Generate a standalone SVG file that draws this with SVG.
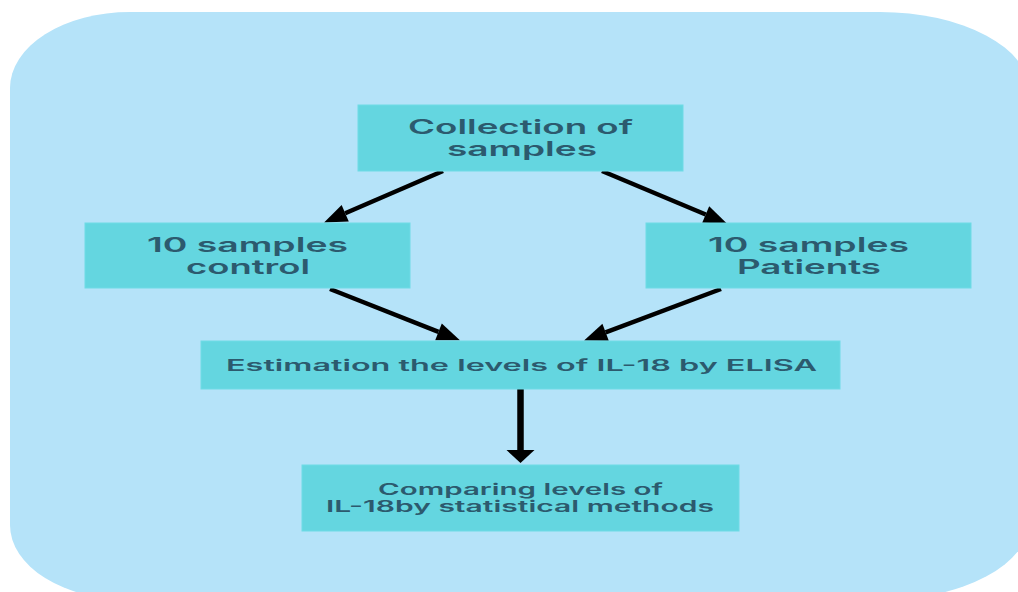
<svg xmlns="http://www.w3.org/2000/svg" width="1018" height="592" viewBox="0 0 1018 592">
<style>
.bg{fill:#b5e3f9}
.box{fill:#64d6e0;stroke:#6fdbe6;stroke-width:1}
.t{font-family:Inter,"Liberation Sans",sans-serif;font-weight:600;fill:#2c5a6e}
.big{font-size:20px}
.small{font-size:15.5px}
.conn{stroke:#000;stroke-width:4.5;fill:none}
.v{stroke:#000;stroke-width:6.5;fill:none}
</style>
<defs>
<marker id="ah" markerUnits="userSpaceOnUse" markerWidth="24" markerHeight="20" refX="0" refY="10" orient="auto" overflow="visible">
<path d="M0,1 L23,10 L0,19 z" fill="#000"/>
</marker>
<marker id="ahv" markerUnits="userSpaceOnUse" markerWidth="14" markerHeight="30" refX="0" refY="15" orient="auto" overflow="visible">
<path d="M0,1 L13,15 L0,29 z" fill="#000"/>
</marker>
</defs>
<path class="bg" d="M130,12 L880,12 A150,80 0 0 1 1030,92 L1030,520 A150,80 0 0 1 880,600 L130,600 A120,75 0 0 1 10,525 L10,88 A120,76 0 0 1 130,12 Z"/>
<g id="connectors">
<line class="conn" x1="443" y1="171" x2="345.2" y2="213.3" marker-end="url(#ah)"/>
<line class="conn" x1="602" y1="171" x2="705.7" y2="214.5" marker-end="url(#ah)"/>
<line class="conn" x1="330" y1="289" x2="438.5" y2="331.9" marker-end="url(#ah)"/>
<line class="conn" x1="721" y1="289" x2="605.6" y2="332.3" marker-end="url(#ah)"/>
<line class="v" x1="520.5" y1="389" x2="520.5" y2="450" marker-end="url(#ahv)"/>
</g>
<g id="collection">
<rect class="box" x="358" y="105" width="325" height="66"/>
<text class="t big" x="520.5" y="134" text-anchor="middle" textLength="225" lengthAdjust="spacingAndGlyphs">Collection of</text>
<text class="t big" x="522" y="156" text-anchor="middle" textLength="150" lengthAdjust="spacingAndGlyphs">samples</text>
</g>
<g id="control">
<rect class="box" x="85" y="223" width="325" height="65"/>
<text class="t big" x="247.5" y="252" text-anchor="middle" textLength="201" lengthAdjust="spacingAndGlyphs">10 samples</text>
<text class="t big" x="248" y="274" text-anchor="middle" textLength="124" lengthAdjust="spacingAndGlyphs">control</text>
</g>
<g id="patients">
<rect class="box" x="646" y="223" width="325" height="65"/>
<text class="t big" x="808.5" y="252" text-anchor="middle" textLength="201" lengthAdjust="spacingAndGlyphs">10 samples</text>
<text class="t big" x="809" y="274" text-anchor="middle" textLength="144" lengthAdjust="spacingAndGlyphs">Patients</text>
</g>
<g id="estimation">
<rect class="box" x="201" y="341" width="639" height="48"/>
<text class="t small" x="521.5" y="371" text-anchor="middle" textLength="591" lengthAdjust="spacingAndGlyphs">Estimation the levels of IL-18 by ELISA</text>
</g>
<g id="comparing">
<rect class="box" x="302" y="465" width="437" height="66"/>
<text class="t small" x="520.5" y="495" text-anchor="middle" textLength="285" lengthAdjust="spacingAndGlyphs">Comparing levels of</text>
<text class="t small" x="520" y="512" text-anchor="middle" textLength="388" lengthAdjust="spacingAndGlyphs">IL-18by statistical methods</text>
</g>
</svg>
